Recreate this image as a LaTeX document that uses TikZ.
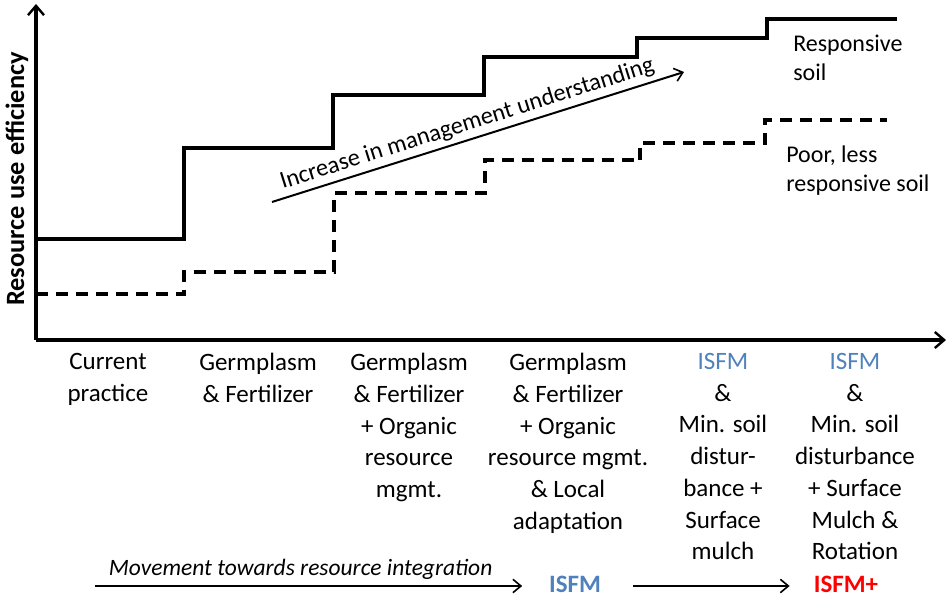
\documentclass[tikz,border=0pt]{standalone}
\usepackage{fontspec}
\setmainfont{Carlito}
\usetikzlibrary{arrows.meta}
\definecolor{isfmblue}{RGB}{79,129,189}
\definecolor{isfmred}{RGB}{255,0,0}

\begin{document}
\begin{tikzpicture}[x=0.75pt,y=0.75pt,yscale=-1,xscale=1,
  stair/.style={line width=2.4pt, line join=miter},
  stairdash/.style={line width=2.4pt, dash pattern=on 9pt off 6pt},
  axisline/.style={line width=2.4pt, -{Straight Barb[length=7pt,width=12pt,line width=1.8pt]}},
  thinarrow/.style={line width=1.5pt, -{Straight Barb[length=6pt,width=10pt,line width=1.2pt]}},
  steplabel/.style={anchor=north, inner sep=0pt, align=center, font=\fontsize{18.75}{23.8}\selectfont},
  soillabel/.style={anchor=north west, inner sep=0pt, align=left, font=\fontsize{18}{21.5}\selectfont}]
\useasboundingbox (0,0) rectangle (949,598);

%Axes
\coordinate (origin) at (36,340);
\draw [axisline] (origin) -- (36,4);
\draw [axisline] (origin) -- (946,340);

% Text Node
\node (yname) [rotate=90, inner sep=0pt, font=\fontsize{19.8}{23}\bfseries] at (17,179) {Resource use efficiency};

%Responsive soil steps
\draw [stair] (36,239) -- (184,239) -- (184,148) -- (333,148) -- (333,95) -- (484,95) -- (484,57) -- (637,57) -- (637,38) -- (767,38) -- (767,19) -- (897,19);

%Poor soil steps
\draw [stairdash] (36,294) -- (184,294) -- (184,272) -- (334,272) -- (334,193) -- (485,193) -- (485,160) -- (635,160);
\draw [stairdash] (640,160) -- (640,143) -- (765,143) -- (765,120) -- (887,120);

%Increase arrow
\coordinate (incstart) at (272,202);
\coordinate (incend) at (684,72);
\draw [thinarrow] (incstart) -- node [pos=0.485, rotate=17.5, anchor=south, inner sep=3pt, font=\fontsize{18.2}{21}\selectfont] (inctext) {Increase in management understanding} (incend);

% Text Node
\node (resp) [soillabel] at (793,35) {Responsive\\soil};
\node (poor) [soillabel] at (786,146) {Poor, less\\responsive soil};

% Text Node
\node (cur) [steplabel] at (108,353) {Current\\practice};
\node (gf) [steplabel] at (258,353) {Germplasm\\\& Fertilizer};
\node (gfo) [steplabel] at (409,353) {Germplasm\\\& Fertilizer\\+ Organic\\resource\\mgmt.};
\node (gfol) [steplabel] at (568,353) {Germplasm\\\& Fertilizer\\+ Organic\\resource mgmt.\\\& Local\\adaptation};
\node (isfmmulch) [steplabel] at (723,353) {{\color{isfmblue}ISFM}\\\&\\Min. soil\\distur-\\bance +\\Surface\\mulch};
\node (isfmrot) [steplabel] at (855,353) {{\color{isfmblue}ISFM}\\\&\\Min. soil\\disturbance\\+ Surface\\Mulch \&\\Rotation};

%Integration row
\node (isfm) [inner sep=0pt, font=\fontsize{18.75}{22}\bfseries, text=isfmblue] at (575,584) {ISFM};
\node (isfmplus) [inner sep=0pt, font=\fontsize{18.75}{22}\bfseries, text=isfmred] at (846,584) {ISFM+};
\coordinate (movestart) at (95,586);
\draw [thinarrow] (movestart) -- ([xshift=-20]isfm.west |- movestart) node [pos=0.5, above, xshift=-6, inner sep=4pt, font=\fontsize{17.6}{20}\itshape] (movetext) {Movement towards resource integration};
\draw [thinarrow] ([xshift=24]isfm.east |- movestart) -- ([xshift=-18]isfmplus.west |- movestart);

\end{tikzpicture}
\end{document}
